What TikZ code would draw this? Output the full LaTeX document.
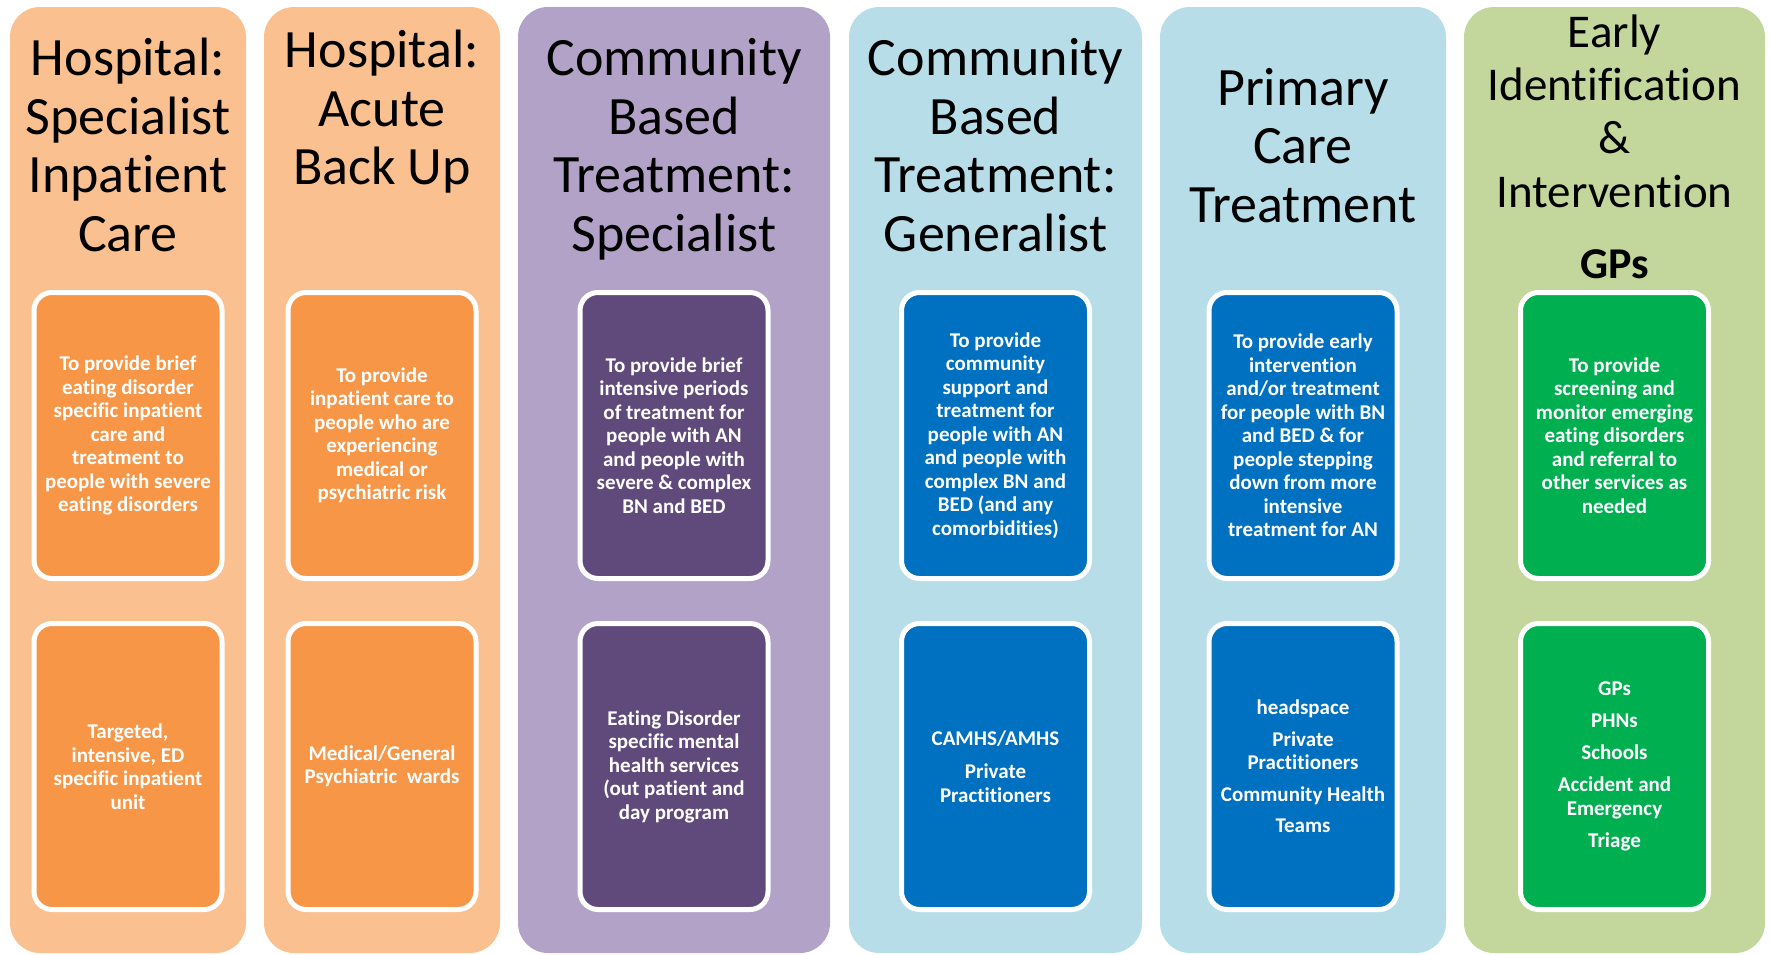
\documentclass[tikz,border=0pt]{standalone}
\usepackage{fontspec}
\setmainfont{Carlito}[Ligatures=NoCommon]
\definecolor{peach}{HTML}{FAC090}
\definecolor{orangebox}{HTML}{F79646}
\definecolor{lavender}{HTML}{B3A2C7}
\definecolor{purplebox}{HTML}{604A7B}
\definecolor{skyblue}{HTML}{B7DEE8}
\definecolor{bluebox}{HTML}{0070C0}
\definecolor{sage}{HTML}{C3D69B}
\definecolor{greenbox}{HTML}{00B050}
\tikzset{
  column/.style={rounded corners=30pt, minimum height=946pt, inner sep=0pt, draw=none},
  card/.style={draw=white, line width=5pt, rounded corners=18pt, minimum width=188pt,
    minimum height=286pt, inner sep=0pt, align=center, text=white,
    font=\fontsize{21}{23.5}\selectfont\bfseries},
  title/.style={align=center, inner sep=0pt, anchor=base, font=\fontsize{54}{58.4}\selectfont},
  smalltitle/.style={align=center, inner sep=0pt, anchor=base, font=\fontsize{47}{53.3}\selectfont},
}
\begin{document}
\begin{tikzpicture}[x=1pt,y=-1pt]
\useasboundingbox (0,0) rectangle (1770,954);
% columns
\node[column, fill=peach, minimum width=236pt] (c1) at (128,480) {};
\node[column, fill=peach, minimum width=236pt] (c2) at (382,480) {};
\node[column, fill=lavender, minimum width=312pt] (c3) at (674,480) {};
\node[column, fill=skyblue, minimum width=293pt] (c4) at (995.5,480) {};
\node[column, fill=skyblue, minimum width=286pt] (c5) at (1303,480) {};
\node[column, fill=sage, minimum width=301pt] (c6) at (1614.5,480) {};
% titles (anchored at the baseline of their last line)
\node[title] (t1) at (128,251) {Hospital:\\Specialist\\Inpatient\\Care};
\node[title] (t2) at (382,184.5) {Hospital:\\Acute\\Back Up};
\node[title] (t3) at (674,251) {Community\\Based\\Treatment:\\Specialist};
\node[title] (t4) at (995.5,251) {Community\\Based\\Treatment:\\Generalist};
\node[title] (t5) at (1303,222) {Primary\\Care\\Treatment};
\node[smalltitle] (t6) at (1614.5,207) {Early\\Identification\\\&\\Intervention};
\node[anchor=base, inner sep=0pt, font=\fontsize{44}{50}\selectfont\bfseries] (g6) at (1614.5,278) {GPs};
% upper cards
\node[card, fill=orangebox] (u1) at (128,435.5) {To provide brief\\eating disorder\\specific inpatient\\care and\\treatment to\\people with severe\\eating disorders};
\node[card, fill=orangebox] (u2) at (382,435.5) {To provide\\inpatient care to\\people who are\\experiencing\\medical or\\psychiatric risk};
\node[card, fill=purplebox] (u3) at (674,435.5) {To provide brief\\intensive periods\\of treatment for\\people with AN\\and people with\\severe \& complex\\BN and BED};
\node[card, fill=bluebox] (u4) at (995.5,435.5) {To provide\\community\\support and\\treatment for\\people with AN\\and people with\\complex BN and\\BED (and any\\comorbidities)};
\node[card, fill=bluebox] (u5) at (1303,435.5) {To provide early\\intervention\\and/or treatment\\for people with BN\\and BED \& for\\people stepping\\down from more\\intensive\\treatment for AN};
\node[card, fill=greenbox] (u6) at (1614.5,435.5) {To provide\\screening and\\monitor emerging\\eating disorders\\and referral to\\other services as\\needed};
% lower cards
\node[card, fill=orangebox] (l1) at (128,766.5) {Targeted,\\intensive, ED\\specific inpatient\\unit};
\node[card, fill=orangebox] (l2) at (382,766.5) {Medical/General\\Psychiatric\ \ wards};
\node[card, fill=purplebox] (l3) at (674,766.5) {Eating Disorder\\specific mental\\health services\\(out patient and\\day program};
\node[card, fill=bluebox] (l4) at (995.5,766.5) {CAMHS/AMHS\\[10pt]Private\\Practitioners};
\node[card, fill=bluebox] (l5) at (1303,766.5) {headspace\\[8pt]Private\\Practitioners\\[8pt]Community Health\\[8pt]Teams};
\node[card, fill=greenbox] (l6) at (1614.5,766.5) {GPs\\[8.5pt]PHNs\\[8.5pt]Schools\\[8.5pt]Accident and\\Emergency\\[8.5pt]Triage};
\end{tikzpicture}
\end{document}
